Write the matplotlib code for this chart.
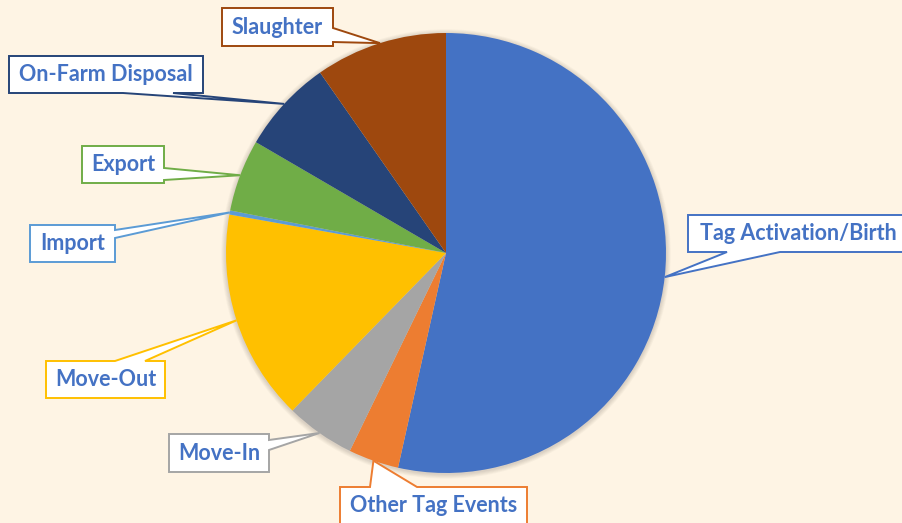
import matplotlib
matplotlib.use("Agg")
import matplotlib.pyplot as plt
from matplotlib.patches import Polygon, Circle
import numpy as np

# ---- data ----
categories = ["Tag Activation/Birth", "Other Tag Events", "Move-In", "Move-Out",
              "Import", "Export", "On-Farm Disposal", "Slaughter"]
values = [53.5, 3.7, 5.1, 15.5, 0.3, 5.3, 6.9, 9.7]
colors = ["#4472C4", "#ED7D31", "#A5A5A5", "#FFC000",
          "#5B9BD5", "#70AD47", "#264478", "#9E480E"]

# callout layout (pixel coords, y down): box x0,y0,x1,y1 ; side ; base a,b
callouts = {
    "Tag Activation/Birth": ((688, 215, 908, 252), "bottom", (727, 780)),
    "Other Tag Events":     ((340, 487, 527, 525), "top", (370, 417)),
    "Move-In":              ((169, 434, 269, 472), "right", (440, 450)),
    "Move-Out":             ((46, 361, 165, 398), "top", (115, 145)),
    "Import":               ((30, 225, 115, 262), "right", (230, 238)),
    "Export":               ((82, 146, 164, 183), "right", (168, 180)),
    "On-Farm Disposal":     ((9, 56, 203, 93), "bottom", (123, 173)),
    "Slaughter":            ((222, 8, 333, 46), "right", (28, 42)),
}

W, H = 902, 523
bg = "#FEF4E4"
fig = plt.figure(figsize=(W / 100, H / 100), dpi=100, facecolor=bg)
ax = fig.add_axes([0, 0, 1, 1])

cx, cy, R = 446, H - 253, 220

# soft shadow
for i in range(1, 7):
    ax.add_patch(Circle((cx, cy - 1), R + i * 0.8, facecolor="black",
                        edgecolor="none", alpha=0.025, zorder=1))

ax.pie(values, colors=colors, startangle=90, counterclock=False,
       center=(cx, cy), radius=R, frame=True,
       wedgeprops=dict(linewidth=0, edgecolor="none", zorder=2))
ax.set_xlim(0, W)
ax.set_ylim(0, H)
ax.set_aspect("equal")
ax.axis("off")

total = sum(values)
cum = np.cumsum([0] + values[:-1])
for name, v, c, col in zip(categories, values, cum, colors):
    mid = (c + v / 2) / total
    ang = np.deg2rad(90 - mid * 360)
    tip = (cx + R * np.cos(ang), cy + R * np.sin(ang))
    (x0, y0, x1, y1), side, (a, b) = callouts[name]
    y0d, y1d = H - y0, H - y1
    if side == "top":
        pts = [(x0, y0d), (a, y0d), tip, (b, y0d), (x1, y0d), (x1, y1d), (x0, y1d)]
    elif side == "right":
        pts = [(x0, y0d), (x1, y0d), (x1, H - a), tip, (x1, H - b), (x1, y1d), (x0, y1d)]
    else:  # bottom
        pts = [(x0, y0d), (x1, y0d), (x1, y1d), (b, y1d), tip, (a, y1d), (x0, y1d)]
    ax.add_patch(Polygon(pts, closed=True, facecolor="white", edgecolor=col,
                         linewidth=1.4, zorder=5, joinstyle="miter"))
    tx = (x0 + x1) / 2
    if name == "Tag Activation/Birth":
        tx = 798
    ax.text(tx, (y0d + y1d) / 2, name, ha="center", va="center",
            fontsize=15.5, fontweight="bold", color="#4472C4",
            family=["Lato", "DejaVu Sans"], zorder=6)

fig.savefig("out.png", dpi=100, facecolor=bg)
